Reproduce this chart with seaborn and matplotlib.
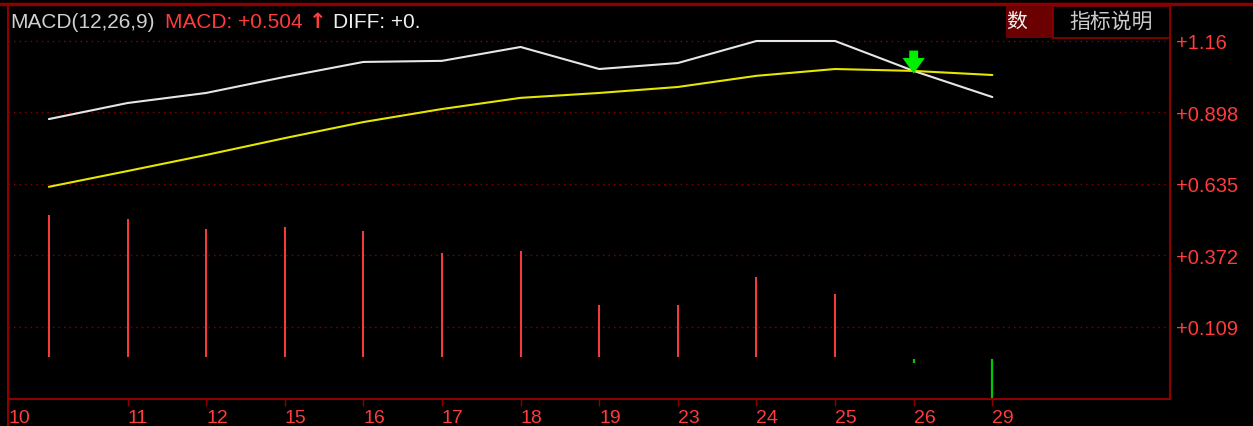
import numpy as np
import pandas as pd
import matplotlib
matplotlib.use('Agg')
import matplotlib.pyplot as plt
import matplotlib.patches as mpatches
from matplotlib.lines import Line2D
import seaborn as sns

# Data
dates = ['10', '11', '12', '15', '16', '17', '18', '19', '23', '24', '25', '26', '29']
diff = [0.873, 0.932, 0.969, 1.028, 1.083, 1.087, 1.138, 1.057, 1.079, 1.160, 1.160, 1.050, 0.954]
dea = [0.624, 0.682, 0.741, 0.803, 0.862, 0.910, 0.951, 0.969, 0.991, 1.032, 1.057, 1.050, 1.035]
macd = [0.520, 0.506, 0.469, 0.476, 0.462, 0.381, 0.388, 0.190, 0.190, 0.293, 0.230, -0.022, -0.160]
yticks = [0.109, 0.372, 0.635, 0.898, 1.16]
ytick_labels = ['+0.109', '+0.372', '+0.635', '+0.898', '+1.16']

DARKRED = '#8c0000'
RED = '#ff3b3b'
GREEN = '#00c800'

sns.set_style('dark', {'axes.facecolor': 'black', 'figure.facecolor': 'black'})
plt.rcParams['font.family'] = ['Liberation Sans', 'Noto Sans CJK SC', 'DejaVu Sans']

W, H = 1253, 427
fig = plt.figure(figsize=(W / 100, H / 100), dpi=100)
ax = fig.add_axes([8 / W, 27 / H, (1170 - 8) / W, (400 - 5) / H])

df = pd.DataFrame({'idx': np.arange(len(dates)), 'date': dates,
                   'diff': diff, 'dea': dea, 'macd': macd})

# MACD histogram as thin sticks
pos = df[df.macd >= 0]
neg = df[df.macd < 0]
ax.vlines(pos.idx, 0, pos.macd, colors=RED, lw=1.4)
ax.vlines(neg.idx, -0.01, neg.macd, colors=GREEN, lw=1.6)

# DIFF and DEA lines
sns.lineplot(data=df, x='idx', y='diff', color='#e6e6e6', lw=1.5, ax=ax)
sns.lineplot(data=df, x='idx', y='dea', color='#e6e600', lw=1.5, ax=ax)

# crossover arrow
ax.annotate('', xy=(11, 1.03), xytext=(11, 1.135),
            arrowprops=dict(arrowstyle='simple,head_width=1.0,head_length=0.7,tail_width=0.4',
                            color='#00ee00', lw=0, mutation_scale=16))

xmin, xmax = -0.52, 14.26
ax.set_xlim(xmin, xmax)
ax.set_ylim(-0.156, 1.296)

ax.set_xticks([xmin] + list(range(1, len(dates))))
ax.set_xticklabels(dates, ha='left')
ax.tick_params(axis='x', colors=DARKRED, labelcolor=RED, length=5, width=1,
               direction='out', labelsize=14, pad=2, bottom=True)

ax.yaxis.tick_right()
ax.set_yticks(yticks)
ax.set_yticklabels(ytick_labels)
ax.tick_params(axis='y', length=0, labelcolor=RED, labelsize=14.5, pad=4)

ax.set_xlabel('')
ax.set_ylabel('')
ax.grid(False)
for y in yticks:
    ax.axhline(y, color=DARKRED, lw=1, linestyle=(0, (1, 3)), zorder=0)

for s in ['left', 'right', 'top', 'bottom']:
    ax.spines[s].set_visible(True)
    ax.spines[s].set_color(DARKRED)
    ax.spines[s].set_linewidth(1.5)

# frame lines outside the axes
fig.add_artist(Line2D([0, 1], [1 - 5 / H, 1 - 5 / H], color=DARKRED, lw=2.5))
fig.add_artist(Line2D([8 / W, 8 / W], [0, 1 - 5 / H], color=DARKRED, lw=1.5))

# header
ty = 1 - 22 / H
fig.text(10 / W, ty, 'MACD(12,26,9)', color='#d0d0d0', fontsize=15, va='center')
fig.text(165 / W, ty, 'MACD: +0.504', color=RED, fontsize=15, va='center')
fig.text(309 / W, ty, '↑', color=RED, fontsize=15, va='center', fontweight='bold',
         family=['DejaVu Sans'])
fig.text(333 / W, ty, 'DIFF: +0.', color='#f0f0f0', fontsize=15, va='center')

# top-right buttons
fig.add_artist(mpatches.Rectangle((1006 / W, 1 - 39 / H), 47 / W, 32 / H,
                                  transform=fig.transFigure, facecolor='#6a0000',
                                  edgecolor='none', zorder=2))
fig.add_artist(mpatches.Rectangle((1053 / W, 1 - 39 / H), 117 / W, 32 / H,
                                  transform=fig.transFigure, facecolor='black',
                                  edgecolor=DARKRED, lw=1.2, zorder=2))
fig.text(1017 / W, ty, '数', color='#f0f0f0', fontsize=15, va='center', ha='center', zorder=4)
fig.text(1111 / W, ty, '指标说明', color='#cccccc', fontsize=15, va='center', ha='center', zorder=4)

fig.savefig('out.png', dpi=100, facecolor='black')
